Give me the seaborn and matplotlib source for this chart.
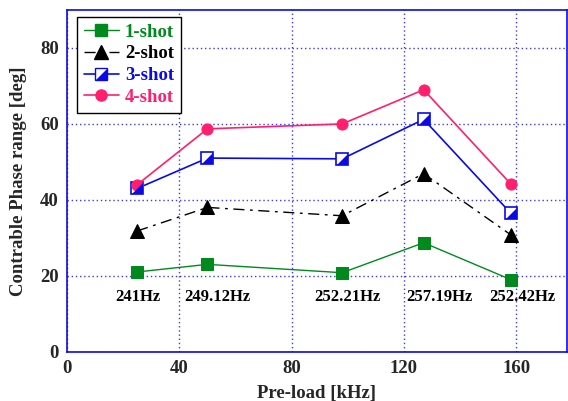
import matplotlib
matplotlib.use("Agg")
import matplotlib.pyplot as plt
from matplotlib.lines import Line2D
import seaborn as sns
import pandas as pd
import numpy as np

preload = [25, 50, 98, 127, 158]
shot1 = [21.0, 23.0, 20.8, 28.7, 19.0]
shot2 = [31.8, 38.0, 35.8, 46.9, 30.8]
shot3 = [43.0, 51.0, 50.8, 61.2, 36.5]
shot4 = [44.0, 58.7, 60.0, 69.0, 44.2]
freq_labels = ["241Hz", "249.12Hz", "252.21Hz", "257.19Hz", "252.42Hz"]
freq_x = [25.3, 53.5, 100, 132.5, 162]
freq_y = 14.4

sns.set_style("white")
plt.rcParams['font.family'] = ['Liberation Serif', 'DejaVu Serif']
plt.rcParams['font.weight'] = 'bold'

fig = plt.figure(figsize=(5.68, 4.01), dpi=100)
ax = fig.add_axes([0.118, 0.123, 0.880, 0.852])

green = "#008a1e"
blue = "#0a0ae6"
pink = "#ff1f6e"

df = pd.DataFrame({"x": preload, "s1": shot1, "s2": shot2, "s3": shot3, "s4": shot4})

sns.lineplot(data=df, x="x", y="s1", ax=ax, color=green, lw=1.0, marker="s",
             markersize=8, markeredgecolor=green, markerfacecolor=green, zorder=3)
sns.lineplot(data=df, x="x", y="s2", ax=ax, color="black", lw=1.0, marker="^",
             markersize=10, markeredgecolor="black", markerfacecolor="black", zorder=3)
l2 = ax.lines[-1]
l2.set_dashes([8, 4, 2, 4])
sns.lineplot(data=df, x="x", y="s3", ax=ax, color=blue, lw=1.2, marker="s",
             markersize=8, markeredgecolor=blue, markerfacecolor="white",
             markeredgewidth=1.2, zorder=3)
tri = [(1, -1), (1, 1), (-1, -1), (1, -1)]
ax.plot(preload, shot3, linestyle="none", marker=tri, markersize=8,
        color=blue, markeredgewidth=0, zorder=4)
sns.lineplot(data=df, x="x", y="s4", ax=ax, color=pink, lw=1.2, marker="o",
             markersize=8, markeredgecolor=pink, markerfacecolor=pink, zorder=3)

for xx, lab in zip(freq_x, freq_labels):
    ax.text(xx, freq_y, lab, ha="center", va="center", fontsize=12,
            fontweight="bold", color="black")

ax.set_xlim(0, 178)
ax.set_ylim(0, 90)
ax.set_xticks([0, 40, 80, 120, 160])
ax.set_yticks([0, 20, 40, 60, 80])
ax.grid(True, color=blue, linestyle=(0, (1, 2)), linewidth=1.0, alpha=0.8)
for s in ax.spines.values():
    s.set_color(blue)
    s.set_linewidth(1.2)
ax.tick_params(direction="in", length=4, color=blue, labelsize=13.5, pad=6)
for t in ax.get_xticklabels() + ax.get_yticklabels():
    t.set_fontweight("bold")
ax.set_xlabel("Pre-load [kHz]", fontsize=13.5, fontweight="bold", labelpad=6)
ax.set_ylabel("Contrable Phase range [deg]", fontsize=13.5, fontweight="bold", labelpad=9)

h3 = (Line2D([], [], color=blue, lw=1.2, marker="s", markersize=8, markerfacecolor="white",
             markeredgecolor=blue),
      Line2D([], [], linestyle="none", marker=tri, markersize=8, color=blue, markeredgewidth=0))
handles = [
    Line2D([], [], color=green, lw=1.0, marker="s", markersize=8),
    Line2D([], [], color="black", lw=1.0, marker="^", markersize=10, dashes=[8, 4, 2, 4]),
    h3,
    Line2D([], [], color=pink, lw=1.2, marker="o", markersize=8),
]
labels = ["1-shot", "2-shot", "3-shot", "4-shot"]
leg = ax.legend(handles, labels, loc="upper left", bbox_to_anchor=(0.02, 0.98),
                frameon=True, fancybox=False, framealpha=1, edgecolor="black",
                fontsize=13.5, handlelength=1.9, borderpad=0.35, labelspacing=0.25,
                handletextpad=0.3, borderaxespad=0)
leg.get_frame().set_linewidth(1.0)
for txt, c in zip(leg.get_texts(), [green, "black", blue, pink]):
    txt.set_color(c)
    txt.set_fontweight("bold")

fig.savefig("out.png", dpi=100)
